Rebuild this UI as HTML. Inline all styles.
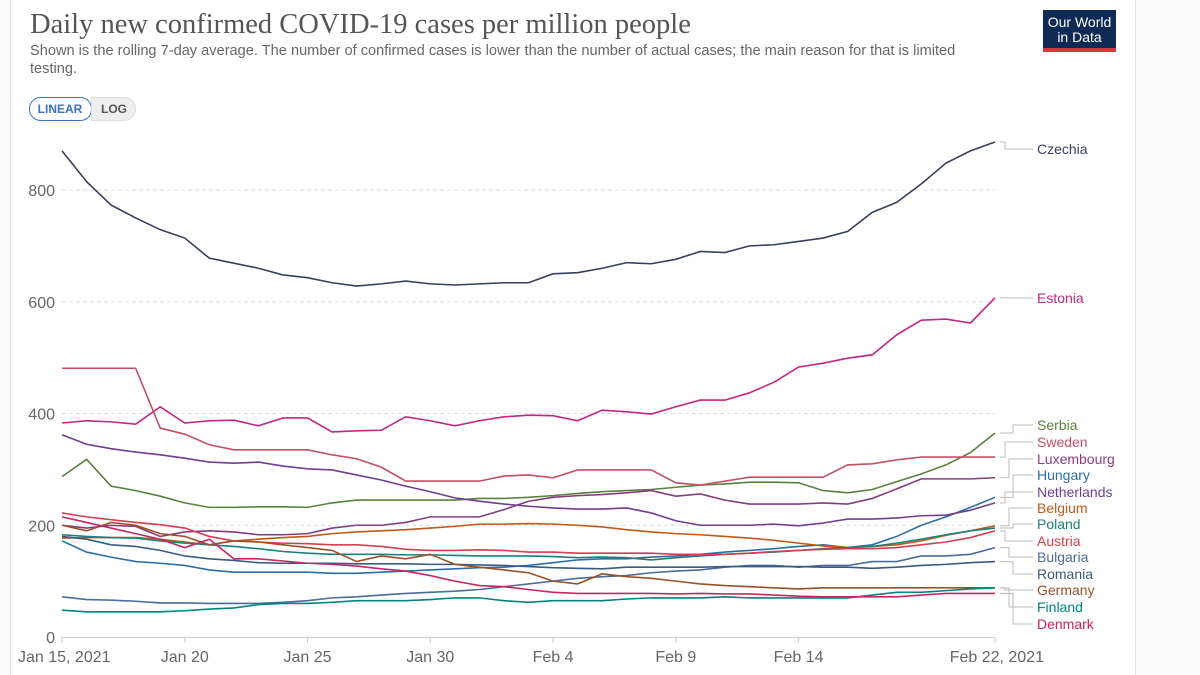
<!DOCTYPE html>
<html><head><meta charset="utf-8"><style>
body{margin:0;width:1200px;height:675px;overflow:hidden;background:#fafafa;font-family:"Liberation Sans",sans-serif}
#panel{position:absolute;left:10px;top:0;width:1124px;height:675px;background:#fff;border-left:1px solid #e4e4e4;border-right:1px solid #e4e4e4}
</style></head><body>
<div id="panel"></div>
<svg id="c" width="1200" height="675" style="position:absolute;left:0;top:0">
<text x="30" y="33" font-family="Liberation Serif,serif" font-size="28.5" fill="#555">Daily new confirmed COVID-19 cases per million people</text>
<text x="30" y="55" font-size="14.6" fill="#666">Shown is the rolling 7-day average. The number of confirmed cases is lower than the number of actual cases; the main reason for that is limited</text>
<text x="30" y="73" font-size="14.6" fill="#666">testing.</text>
<g><rect x="29.5" y="97.5" width="62" height="23" rx="11" fill="#fff" stroke="#3b73c6"/><text x="60" y="113" font-size="12" font-weight="bold" fill="#3b73c6" text-anchor="middle">LINEAR</text></g>
<g><path d="M91.5 97.5 H124 a11.5 11.5 0 0 1 0 23 H91.5 Z" fill="#eee" stroke="#ddd"/><text x="114" y="113" font-size="12" font-weight="bold" fill="#555" text-anchor="middle">LOG</text></g>
<g><rect x="1043" y="10" width="73" height="42" fill="#0f2a55"/><rect x="1043" y="48" width="73" height="4" fill="#ce3b3b"/><text x="1079.5" y="27" font-size="14" fill="#fff" text-anchor="middle">Our World</text><text x="1079.5" y="42" font-size="14" fill="#fff" text-anchor="middle">in Data</text></g>
<g id="axes"></g><g id="lines"></g><g id="legend"></g>
</svg>
<script>
const days=["Jan 15, 2021","Jan 20","Jan 25","Jan 30","Feb 4","Feb 9","Feb 14","Feb 22, 2021"];
const dayIdx=[0,5,10,15,20,25,30,38];
const yTicks=[0,200,400,600,800];
const names=["Czechia","Estonia","Serbia","Sweden","Luxembourg","Hungary","Netherlands","Belgium","Poland","Austria","Bulgaria","Romania","Germany","Finland","Denmark"];
const colors=["#38405a","#c3267e","#58813d","#c15065","#883c7e","#2c6fa5","#6d3e91","#c05917","#18827a","#d73c50","#4c6a9c","#3a5a80","#9a5129","#00847e","#c82563"];
const czechia=[870,815,773,750,729,714,678,669,660,648,643,634,628,632,637,632,630,632,634,634,650,652,660,670,668,676,690,688,700,702,708,714,726,760,778,811,848,870,886];
const estonia=[383,387,385,381,412,383,387,388,378,392,392,367,369,370,394,387,378,387,394,397,396,387,406,403,399,412,424,424,437,456,483,490,499,505,541,567,569,562,607];
const serbia=[287,318,270,262,252,240,232,232,233,233,232,240,245,245,245,245,245,248,248,250,253,257,260,262,264,268,272,274,277,277,276,274,262,258,264,278,292,308,330,365].filter((v,i)=>i!==31);
const sweden=[481,481,481,481,374,363,344,335,335,335,335,326,319,304,279,279,279,279,288,290,285,299,299,299,299,276,272,279,286,286,286,286,308,310,317,322,322,322,322];
const luxembourg=[200,195,200,198,180,188,190,188,183,183,185,195,200,200,205,215,215,215,228,243,250,253,255,258,262,252,256,245,238,238,238,240,238,248,265,283,283,283,285];
const hungary=[172,152,143,135,132,128,120,116,116,116,116,114,114,116,118,120,122,124,125,128,133,138,140,140,143,145,148,152,155,158,162,165,160,165,180,200,215,232,250];
const netherlands=[362,345,337,331,326,320,313,311,313,306,301,299,290,281,270,260,249,243,238,234,231,229,229,231,222,208,200,200,200,202,199,204,211,211,213,217,218,227,240];
const belgium=[177,178,178,178,175,170,165,172,175,178,180,185,188,190,192,195,198,202,202,203,202,200,197,192,188,185,183,180,177,173,168,163,160,162,165,172,182,190,199];
const poland=[183,180,178,177,172,168,165,162,158,153,150,148,148,148,147,147,146,145,145,145,144,142,143,142,138,142,145,148,150,152,155,158,160,162,168,175,183,190,195];
const austria=[222,215,210,205,201,195,180,172,170,168,167,165,165,162,157,155,155,156,155,152,152,150,150,150,150,148,148,148,150,153,155,157,158,158,160,165,170,178,190];
const bulgaria=[72,67,66,64,61,61,60,60,60,62,65,70,72,75,78,80,82,85,90,95,100,105,108,110,115,118,120,125,128,128,125,128,128,135,135,145,145,148,160];
const romania=[180,175,165,162,155,145,140,137,133,132,132,132,131,131,131,130,130,129,128,126,124,123,122,125,125,125,125,126,126,126,126,125,125,123,125,128,130,133,135];
const germany=[200,190,205,200,185,180,165,172,170,165,160,155,135,145,140,148,130,125,120,115,100,95,113,108,105,100,95,92,90,88,86,88,88,88,88,88,88,88,88];
const finland=[48,45,45,45,45,47,50,52,58,60,60,62,65,65,65,67,70,70,65,62,65,65,65,68,70,70,70,72,70,70,70,70,70,75,80,80,83,86,88];
const denmark=[215,205,195,185,175,160,175,140,140,136,132,130,127,122,118,110,100,92,90,85,80,78,78,78,78,77,78,77,77,75,73,72,72,72,72,75,78,78,78];
const series=[czechia,estonia,serbia,sweden,luxembourg,hungary,netherlands,belgium,poland,austria,bulgaria,romania,germany,finland,denmark];
const labelY=[149,298,425,442,459,475,492,508,524,541,557,574,590,607,624];
const X=i=>62+i*(995-62)/38, Y=v=>637-v*447/800;
const NS="http://www.w3.org/2000/svg";
function mk(t,a,p){const e=document.createElementNS(NS,t);for(const k in a)e.setAttribute(k,a[k]);p.appendChild(e);return e;}
const ax=document.getElementById('axes');
yTicks.forEach(v=>{
  if(v>0){const g=mk('line',{x1:62,x2:995,y1:Y(v),y2:Y(v),stroke:'#ddd','stroke-dasharray':'4,3'},ax);
  
  }
  const t=mk('text',{x:55,y:Y(v)+6,'font-size':16,fill:'#666','text-anchor':'end'},ax);t.textContent=v;
  
  
});
const base=mk('line',{x1:62,x2:995,y1:637.5,y2:637.5,stroke:'#ccc'},ax);


days.forEach((d,k)=>{
  const x=X(dayIdx[k]);
  mk('line',{x1:x,x2:x,y1:637,y2:643,stroke:'#ccc'},ax);
  const t=mk('text',{x:k==0?18:(k==days.length-1?1044:x),y:662,'font-size':16,fill:'#666','text-anchor':k==0?'start':(k==days.length-1?'end':'middle')},ax);t.textContent=d;
  
  
});
const lg=document.getElementById('lines'), le=document.getElementById('legend');
series.forEach((s,j)=>{
  const p=mk('polyline',{points:s.map((v,i)=>X(i)+','+Y(v)).join(' '),fill:'none',stroke:colors[j],'stroke-width':1.6},lg);
  
  
  const ey=Y(s[s.length-1]), ly=labelY[j], mx=1005+((j%3)*4);
  mk('path',{d:`M1000 ${ey} H${mx} V${ly} H1033`,fill:'none',stroke:'#bbb'},le);
  const t=mk('text',{x:1037,y:ly+5,'font-size':14,fill:colors[j]},le);t.textContent=names[j];
  
  
});
</script>
</body></html>
